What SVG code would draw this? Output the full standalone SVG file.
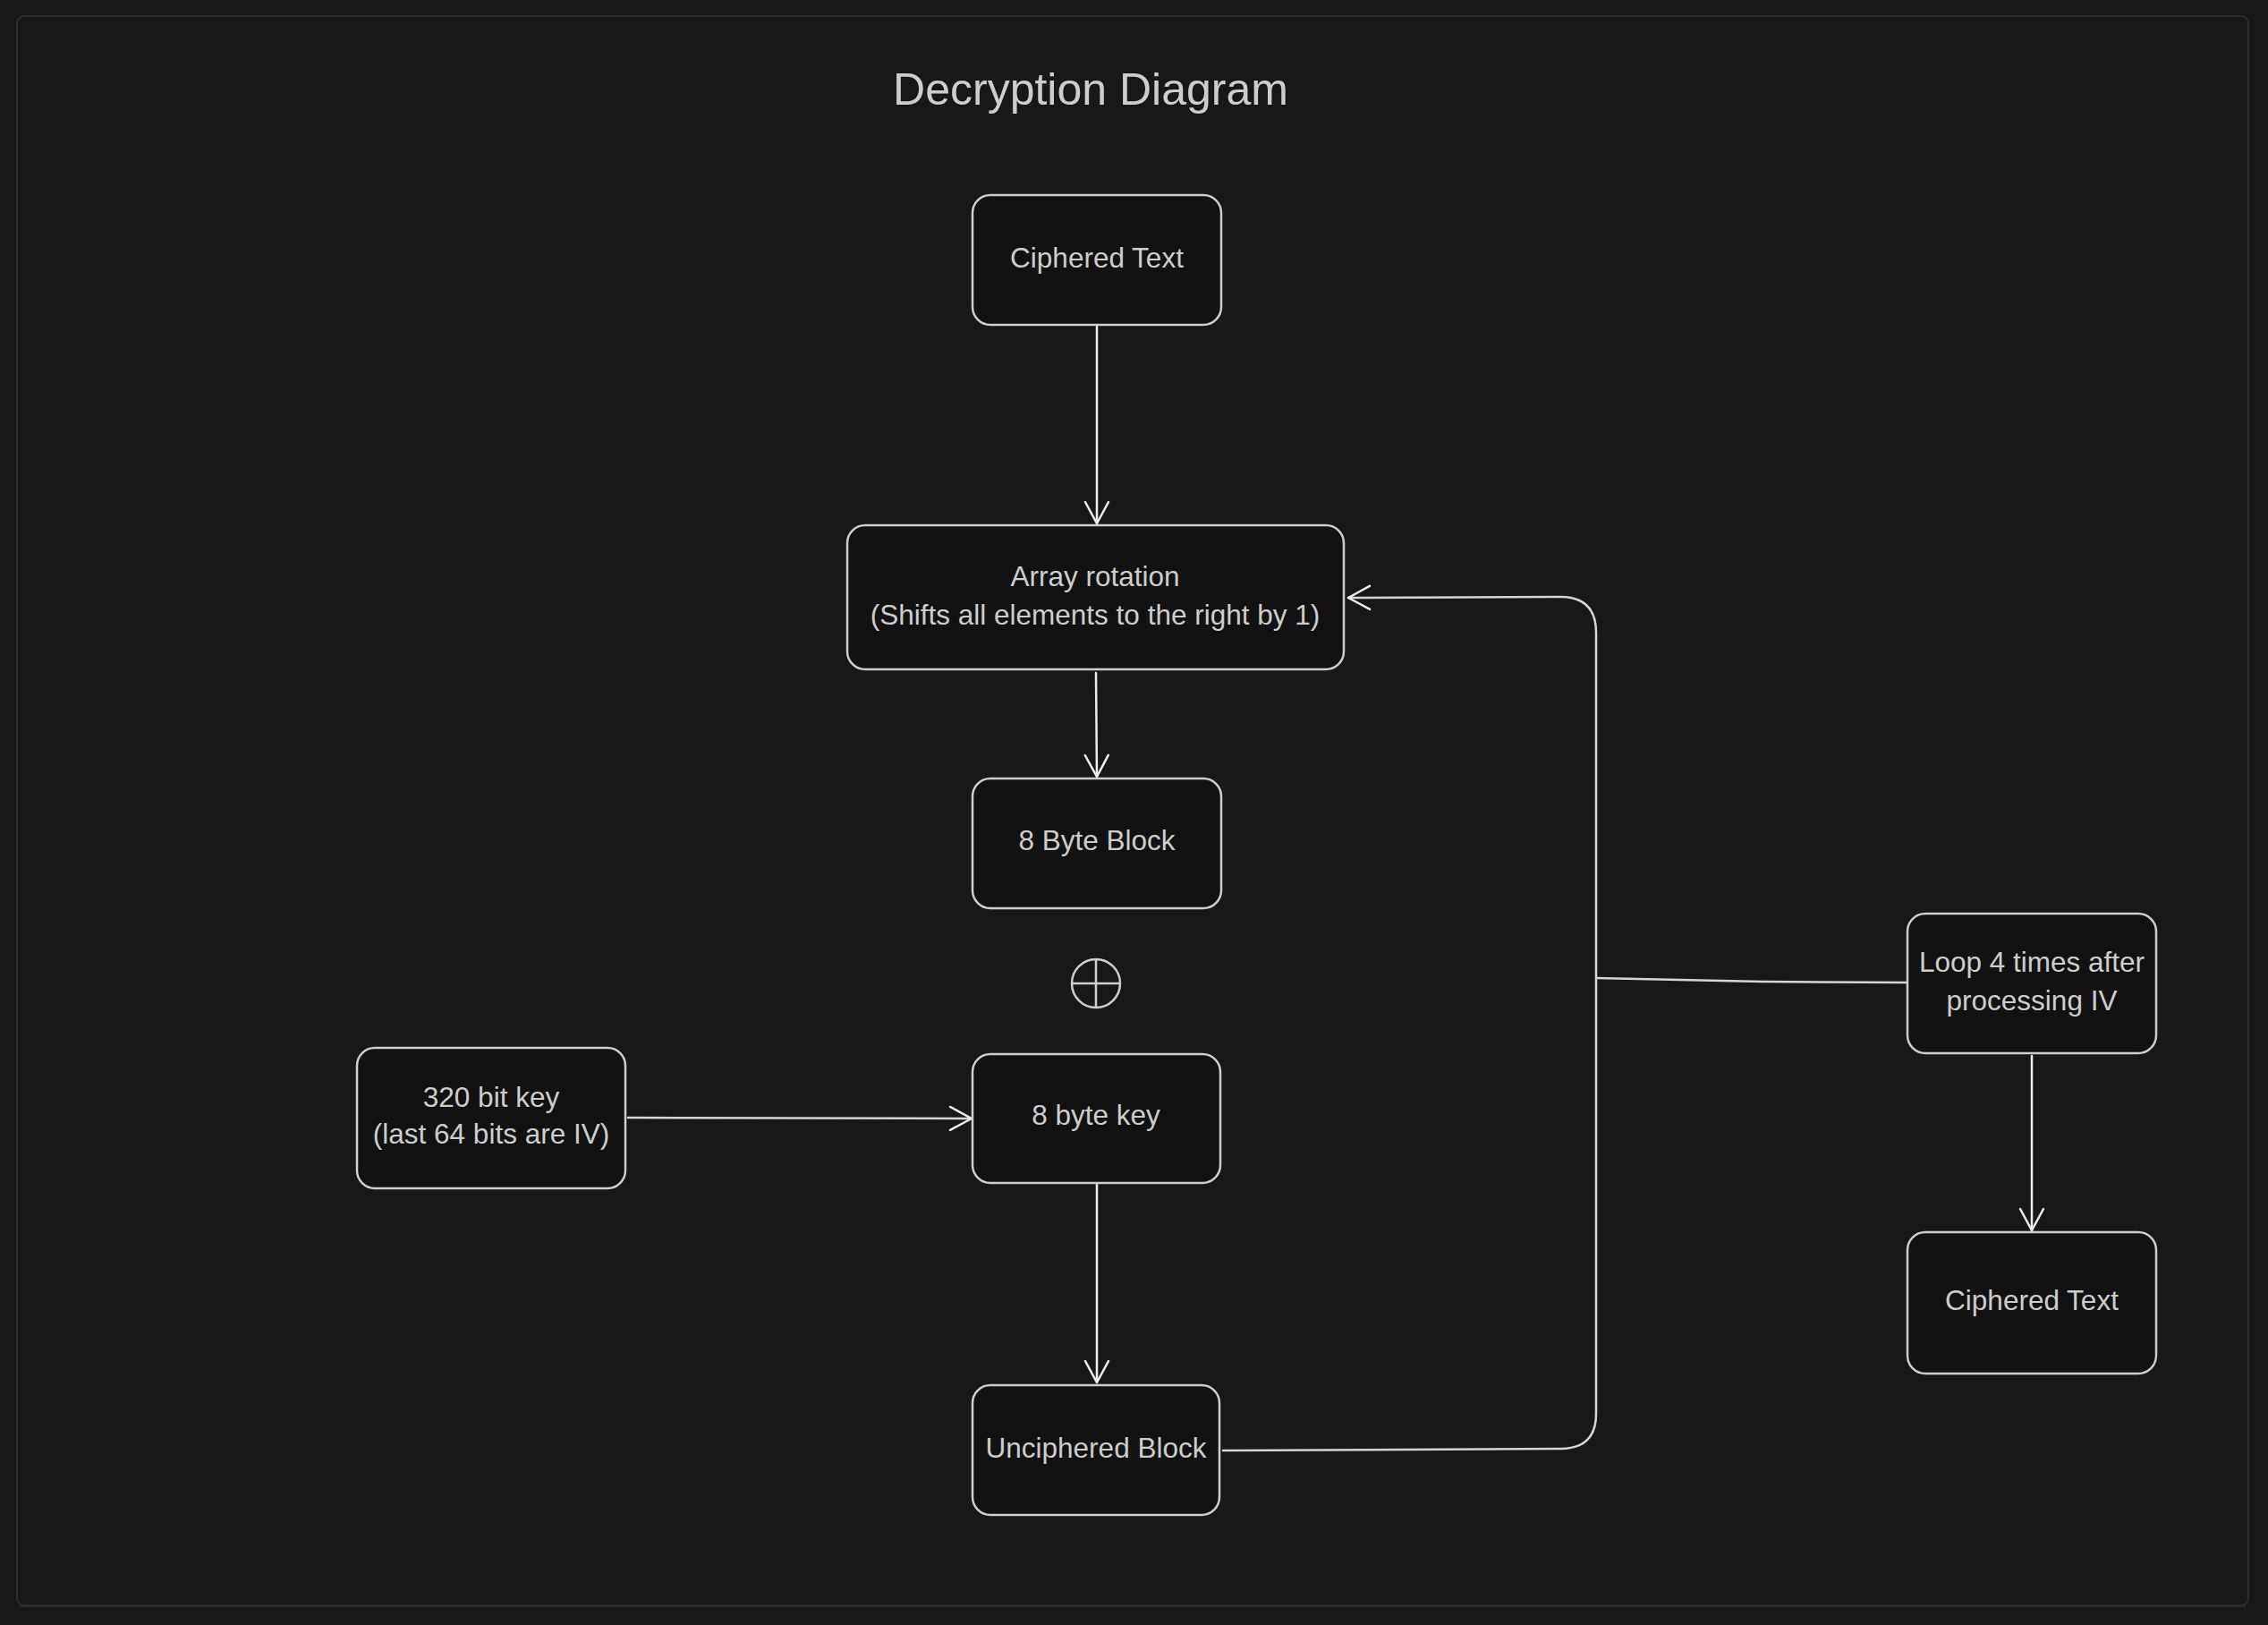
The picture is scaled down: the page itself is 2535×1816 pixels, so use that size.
<svg xmlns="http://www.w3.org/2000/svg" width="2535" height="1816" viewBox="0 0 2535 1816">
<defs>
<style>
.bg{fill:#181818}
.frame{fill:none;stroke:#2e2e2e;stroke-width:2}
.box{fill:#121212;stroke:#cecece;stroke-width:2.5}
.t{font-family:"Liberation Sans",Arial,sans-serif;font-size:31.5px;fill:#cdcdcd;text-anchor:middle}
.title{font-family:"Liberation Sans",Arial,sans-serif;font-size:50px;fill:#cdcdcd;text-anchor:middle}
.c{fill:none;stroke:#d6d6d6;stroke-width:2.5;stroke-linecap:round;stroke-linejoin:round}
.a{fill:none;stroke:#ededed;stroke-width:2.5;stroke-linecap:round;stroke-linejoin:round}
</style>
<marker id="ah" markerUnits="userSpaceOnUse" markerWidth="40" markerHeight="40" viewBox="-30 -20 40 40" refX="0" refY="0" orient="auto">
<path d="M-24,-13 L0,0 L-24,13" fill="none" stroke="#ededed" stroke-width="2.5" stroke-linecap="round" stroke-linejoin="round"/>
</marker>
</defs>
<rect class="bg" x="0" y="0" width="2535" height="1816"/>
<rect class="frame" x="19" y="18" width="2494" height="1776" rx="8"/>
<line x1="22" y1="1795" x2="2510" y2="1795" stroke="#2c2c2c" stroke-width="2"/>
<text class="title" x="1219" y="117">Decryption Diagram</text>

<g id="connectors">
<path class="a" d="M1226,365 L1226,585" marker-end="url(#ah)"/>
<path class="a" d="M1225,752 L1226,868" marker-end="url(#ah)"/>
<path class="a" d="M1226,1324 L1226,1545" marker-end="url(#ah)"/>
<path class="c" d="M702,1249 L1086,1250" marker-end="url(#ah)"/>
<path class="a" d="M2271,1180 L2271,1375" marker-end="url(#ah)"/>
<path class="c" d="M1367,1621 L1744,1619 Q1784,1619 1784,1580 L1784,707 Q1784,667 1744,667 L1507,668" marker-end="url(#ah)"/>
<path class="c" d="M1784,1093 L1970,1097 L2131,1098"/>
</g>

<g id="ciphered-text-1">
<rect class="box" x="1087" y="218" width="278" height="145" rx="20"/>
<text class="t" x="1226" y="299">Ciphered Text</text>
</g>
<g id="array-rotation">
<rect class="box" x="947" y="587" width="555" height="161" rx="20"/>
<text class="t" x="1224" y="655">Array rotation</text>
<text class="t" x="1224" y="698">(Shifts all elements to the right by 1)</text>
</g>
<g id="byte-block">
<rect class="box" x="1087" y="870" width="278" height="145" rx="20"/>
<text class="t" x="1226" y="950">8 Byte Block</text>
</g>
<g id="xor">
<circle cx="1225" cy="1099" r="27" fill="none" stroke="#cecece" stroke-width="2.5"/>
<line x1="1198" y1="1099" x2="1252" y2="1099" stroke="#cecece" stroke-width="2.5"/>
<line x1="1225" y1="1072" x2="1225" y2="1126" stroke="#cecece" stroke-width="2.5"/>
</g>
<g id="byte-key">
<rect class="box" x="1087" y="1178" width="277" height="144" rx="20"/>
<text class="t" x="1225" y="1257">8 byte key</text>
</g>
<g id="bit-key">
<rect class="box" x="399" y="1171" width="300" height="157" rx="20"/>
<text class="t" x="549" y="1237">320 bit key</text>
<text class="t" x="549" y="1278">(last 64 bits are IV)</text>
</g>
<g id="unciphered-block">
<rect class="box" x="1087" y="1548" width="276" height="145" rx="20"/>
<text class="t" x="1225" y="1629">Unciphered Block</text>
</g>
<g id="loop">
<rect class="box" x="2132" y="1021" width="278" height="156" rx="20"/>
<text class="t" x="2271" y="1086">Loop 4 times after</text>
<text class="t" x="2271" y="1129">processing IV</text>
</g>
<g id="ciphered-text-2">
<rect class="box" x="2132" y="1377" width="278" height="158" rx="20"/>
<text class="t" x="2271" y="1464">Ciphered Text</text>
</g>
</svg>
